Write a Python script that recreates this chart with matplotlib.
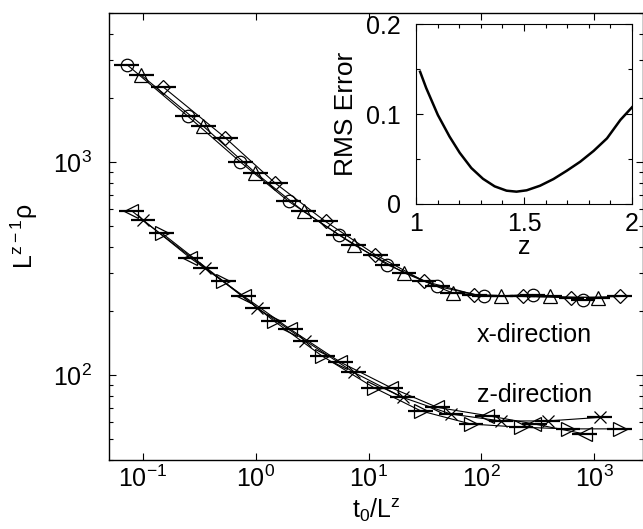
import numpy as np
import matplotlib
matplotlib.use("Agg")
import matplotlib.pyplot as plt
from matplotlib.ticker import MultipleLocator, NullLocator, LogLocator

plt.rcParams['font.family'] = ['Liberation Sans', 'DejaVu Sans']
plt.rcParams['mathtext.fontset'] = 'custom'
plt.rcParams['mathtext.rm'] = 'Liberation Sans'
plt.rcParams['mathtext.default'] = 'regular'

# x-direction data (three system sizes)
circ_t = [0.072, 0.25, 0.73, 1.96, 5.45, 14.6, 40.5, 106, 285, 795]
circ_y = [2865, 1640, 1000, 653, 456, 330, 261, 234, 239, 226]
tri_t = [0.097, 0.343, 0.99, 2.66, 7.4, 20.6, 55.5, 149, 401, 1079]
tri_y = [2550, 1472, 891, 586, 409, 302, 243, 234, 234, 231]
dia_t = [0.151, 0.536, 1.49, 4.15, 11.5, 31, 86, 232, 625, 1680]
dia_y = [2250, 1300, 795, 526, 367, 276, 239, 234, 231, 234]

# z-direction data
ltri_t = [0.079, 0.262, 0.78, 2.03, 5.63, 15.7, 40.7, 113, 295, 820]
ltri_y = [592, 355, 235, 164, 115, 87.5, 70.6, 64.6, 59, 53]
xm_t = [0.1, 0.356, 1.03, 2.75, 7.4, 20, 53.6, 149, 387, 1114]
xm_y = [532, 319, 207, 145, 103, 78.7, 65.7, 61, 61, 63.4]
rtri_t = [0.147, 0.517, 1.44, 3.87, 11.1, 29, 80.7, 224, 584, 1680]
rtri_y = [464, 276, 180, 123, 87.5, 68, 59, 57, 56, 56]

# half-width of the horizontal error bars, in decades
xerr_dex = 0.11

# inset: RMS error of the collapse vs z
z_vals = [1.019, 1.047, 1.101, 1.155, 1.202, 1.256, 1.31, 1.364, 1.419, 1.465,
          1.512, 1.574, 1.636, 1.698, 1.76, 1.822, 1.884, 1.946, 2.0]
rms_vals = [0.147, 0.129, 0.099, 0.075, 0.057, 0.040, 0.028, 0.0196, 0.0148, 0.0137,
            0.0152, 0.0203, 0.0277, 0.037, 0.047, 0.059, 0.073, 0.0935, 0.1076]

series = [
    (circ_t, circ_y, 'o', 9),
    (tri_t, tri_y, '^', 10),
    (dia_t, dia_y, 'D', 7.5),
    (ltri_t, ltri_y, '<', 10),
    (xm_t, xm_y, 'x', 9),
    (rtri_t, rtri_y, '>', 10),
]

FS = 18

fig = plt.figure(figsize=(6.43, 5.29), dpi=100)
ax = fig.add_axes([0.1695, 0.1304, 0.8305, 0.845])

for t, y, m, ms in series:
    t = np.array(t, dtype=float)
    y = np.array(y, dtype=float)
    lo = t - t / 10**xerr_dex
    hi = t * 10**xerr_dex - t
    ax.plot(t, y, '-', color='black', lw=0.8, zorder=2)
    ax.errorbar(t, y, xerr=[lo, hi], fmt='none', ecolor='black', elinewidth=1.6,
                capsize=0, zorder=3)
    ax.plot(t, y, linestyle='none', marker=m, ms=ms, mfc='none', mec='black',
            mew=0.9, zorder=4)

ax.set_xscale('log')
ax.set_yscale('log')
ax.set_xlim(0.05, 2700)
ax.set_ylim(40, 5000)
ax.xaxis.set_minor_locator(NullLocator())
ax.yaxis.set_major_locator(LogLocator(base=10, numticks=10))
ax.tick_params(which='both', direction='in', top=True, right=True, width=0.8)
ax.tick_params(which='major', length=5, labelsize=FS)
ax.tick_params(which='minor', length=3)
ax.tick_params(axis='y', which='major', pad=12)
ax.tick_params(axis='x', which='major', pad=4)
for s in ax.spines.values():
    s.set_linewidth(1.0)

ax.set_xlabel('t$_0$/L$^z$', fontsize=FS, labelpad=3)
ax.set_ylabel('L$^{z-1}$ρ', fontsize=FS, labelpad=10)

ax.text(0.689, 0.264, 'x-direction', transform=ax.transAxes, fontsize=FS)
ax.text(0.689, 0.130, 'z-direction', transform=ax.transAxes, fontsize=FS)

# inset
ins = fig.add_axes([0.647, 0.6144, 0.336, 0.340])
ins.plot(z_vals, rms_vals, color='black', lw=1.8)
ins.set_xlim(1, 2)
ins.set_ylim(0, 0.2)
ins.set_xticks([1, 1.5, 2])
ins.set_xticklabels(['1', '1.5', '2'])
ins.set_yticks([0, 0.1, 0.2])
ins.set_yticklabels(['0', '0.1', '0.2'])
ins.xaxis.set_minor_locator(MultipleLocator(0.1))
ins.yaxis.set_minor_locator(MultipleLocator(0.05))
ins.tick_params(which='both', direction='in', top=True, right=True, width=0.8)
ins.tick_params(which='major', length=5, labelsize=FS)
ins.tick_params(which='minor', length=3)
ins.tick_params(axis='y', pad=11)
ins.tick_params(axis='x', pad=6)
ins.set_xlabel('z', fontsize=FS, labelpad=-1)
ins.set_ylabel('RMS Error', fontsize=FS + 1, labelpad=6)

fig.savefig('out.png', dpi=100)
